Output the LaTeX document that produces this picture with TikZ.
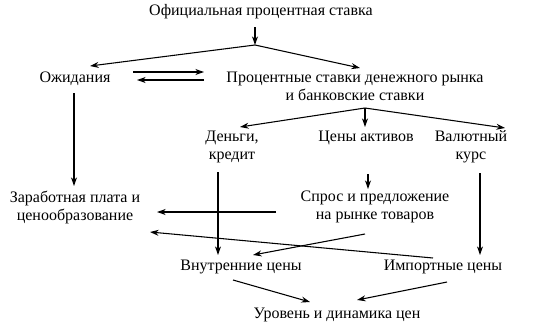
\documentclass[tikz,border=0pt]{standalone}
\usepackage{fontspec}
\setmainfont{Liberation Serif}
\usetikzlibrary{arrows.meta,calc}
\begin{document}
\begin{tikzpicture}[x=0.75pt,y=-0.75pt,
  lbl/.style={inner sep=0pt,align=center,font=\fontsize{12}{13.5}\selectfont},
  arr/.style={line width=0.8pt,-{Stealth[length=6.5pt,width=4.5pt]}},
  ln/.style={line width=0.8pt}]
\useasboundingbox (0,0) rectangle (545,329);
% nodes
\node[lbl] (ofic) at (261,12) {Официальная процентная ставка};
\node[lbl] (ozh) at (75,79) {Ожидания};
\node[lbl] (proc) at (355,86.5) {Процентные ставки денежного рынка\\и банковские ставки};
\node[lbl] (den) at (232,147) {Деньги,\\кредит};
\node[lbl] (cen) at (366,138) {Цены активов};
\node[lbl] (val) at (471,147) {Валютный\\курс};
\node[lbl] (zar) at (75,207) {Заработная плата и\\ценообразование};
\node[lbl] (spr) at (375,207) {Спрос и предложение\\на рынке товаров};
\node[lbl] (vnu) at (241,267) {Внутренние цены};
\node[lbl] (imp) at (443,267) {Импортные цены};
\node[lbl] (urov) at (337,315) {Уровень и динамика цен};
% helper coordinates
\coordinate (o1) at (255,27);
\coordinate (b1) at (255,45);
\coordinate (ozhT) at (90,66);
\coordinate (procT) at (360,68);
\coordinate (d1s) at (133,72); \coordinate (d1e) at (204,72);
\coordinate (d2s) at (204,80); \coordinate (d2e) at (137,80);
\coordinate (ozhB) at (74,93); \coordinate (zarT) at (74,186);
\coordinate (b2) at (365,108);
\coordinate (denT) at (240,127); \coordinate (cenT) at (365,127); \coordinate (valT) at (505,128);
\coordinate (denB) at (218,172); \coordinate (vnuT) at (218,255);
\coordinate (cenB) at (368,174); \coordinate (sprT) at (368,189);
\coordinate (valB) at (480,173); \coordinate (impT) at (480,255);
\coordinate (sprL) at (276,212); \coordinate (zarR) at (157,212);
\coordinate (impL) at (433,258); \coordinate (zarR2) at (150,232);
\coordinate (sprB) at (365,234); \coordinate (vnuR) at (253,255);
\coordinate (vnuB) at (233,280); \coordinate (urovL) at (310,302);
\coordinate (impB) at (447,282); \coordinate (urovR) at (357,300);
% connectors
\draw[arr] (o1) -- (b1);
\draw[arr] (b1) -- (ozhT);
\draw[arr] (b1) -- (procT);
\draw[arr] (d1s) -- (d1e);
\draw[arr] (d2s) -- (d2e);
\draw[arr] (ozhB) -- (zarT);
\draw[arr] (b2) -- (denT);
\draw[arr] (b2) -- (cenT);
\draw[arr] (b2) -- (valT);
\draw[arr] (denB) -- (vnuT);
\draw[arr] (cenB) -- (sprT);
\draw[arr] (valB) -- (impT);
\draw[arr] (sprL) -- (zarR);
\draw[arr] (impL) -- (zarR2);
\draw[arr] (sprB) -- (vnuR);
\draw[arr] (vnuB) -- (urovL);
\draw[arr] (impB) -- (urovR);
\end{tikzpicture}
\end{document}
